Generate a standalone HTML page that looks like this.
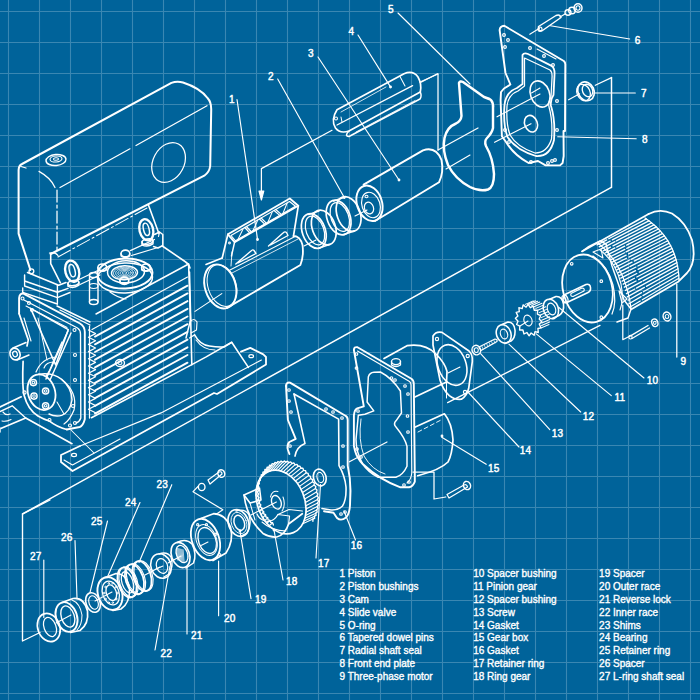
<!DOCTYPE html>
<html><head><meta charset="utf-8"><style>
html,body{margin:0;padding:0;background:#00639a;}
svg{display:block}
.n{font-family:"Liberation Sans",sans-serif;font-size:10px;fill:#fff;stroke:#fff;stroke-width:0.45px;letter-spacing:0.2px}
.l{font-family:"Liberation Sans",sans-serif;font-size:10px;fill:#fff;stroke:#fff;stroke-width:0.35px}
</style></head><body>
<svg width="700" height="700" viewBox="0 0 700 700">
<rect width="700" height="700" fill="#00639a"/>
<g stroke="#3a87b2" stroke-width="1.1">
<line x1="8.5" y1="0" x2="8.5" y2="700"/>
<line x1="0" y1="11.5" x2="700" y2="11.5"/>
<line x1="39.5" y1="0" x2="39.5" y2="700"/>
<line x1="0" y1="42.5" x2="700" y2="42.5"/>
<line x1="70.5" y1="0" x2="70.5" y2="700"/>
<line x1="0" y1="73.5" x2="700" y2="73.5"/>
<line x1="101.5" y1="0" x2="101.5" y2="700"/>
<line x1="0" y1="104.5" x2="700" y2="104.5"/>
<line x1="132.5" y1="0" x2="132.5" y2="700"/>
<line x1="0" y1="135.5" x2="700" y2="135.5"/>
<line x1="163.5" y1="0" x2="163.5" y2="700"/>
<line x1="0" y1="166.5" x2="700" y2="166.5"/>
<line x1="194.5" y1="0" x2="194.5" y2="700"/>
<line x1="0" y1="197.5" x2="700" y2="197.5"/>
<line x1="225.5" y1="0" x2="225.5" y2="700"/>
<line x1="0" y1="228.5" x2="700" y2="228.5"/>
<line x1="256.5" y1="0" x2="256.5" y2="700"/>
<line x1="0" y1="259.5" x2="700" y2="259.5"/>
<line x1="287.5" y1="0" x2="287.5" y2="700"/>
<line x1="0" y1="290.5" x2="700" y2="290.5"/>
<line x1="318.5" y1="0" x2="318.5" y2="700"/>
<line x1="0" y1="321.5" x2="700" y2="321.5"/>
<line x1="349.5" y1="0" x2="349.5" y2="700"/>
<line x1="0" y1="352.5" x2="700" y2="352.5"/>
<line x1="380.5" y1="0" x2="380.5" y2="700"/>
<line x1="0" y1="383.5" x2="700" y2="383.5"/>
<line x1="411.5" y1="0" x2="411.5" y2="700"/>
<line x1="0" y1="414.5" x2="700" y2="414.5"/>
<line x1="442.5" y1="0" x2="442.5" y2="700"/>
<line x1="0" y1="445.5" x2="700" y2="445.5"/>
<line x1="473.5" y1="0" x2="473.5" y2="700"/>
<line x1="0" y1="476.5" x2="700" y2="476.5"/>
<line x1="504.5" y1="0" x2="504.5" y2="700"/>
<line x1="0" y1="507.5" x2="700" y2="507.5"/>
<line x1="535.5" y1="0" x2="535.5" y2="700"/>
<line x1="0" y1="538.5" x2="700" y2="538.5"/>
<line x1="566.5" y1="0" x2="566.5" y2="700"/>
<line x1="0" y1="569.5" x2="700" y2="569.5"/>
<line x1="597.5" y1="0" x2="597.5" y2="700"/>
<line x1="0" y1="600.5" x2="700" y2="600.5"/>
<line x1="628.5" y1="0" x2="628.5" y2="700"/>
<line x1="0" y1="631.5" x2="700" y2="631.5"/>
<line x1="659.5" y1="0" x2="659.5" y2="700"/>
<line x1="0" y1="662.5" x2="700" y2="662.5"/>
<line x1="690.5" y1="0" x2="690.5" y2="700"/>
<line x1="0" y1="693.5" x2="700" y2="693.5"/>
</g>
<g fill="none" stroke="#ffffff" stroke-linecap="round" stroke-linejoin="round">
<line x1="22.5" y1="514" x2="611.3" y2="187.4" stroke-width="1.47" />
<polyline points="332,130.3 261.4,168.6 261.4,196" stroke-width="1.25" />
<path d="M 259,191 L 261.4,200 L 263.8,191 Z" stroke-width="1.14" fill="#fff"/>
<line x1="237" y1="99.5" x2="257.5" y2="239" stroke-width="1.14" />
<circle cx="257.5" cy="239.5" r="0.9" stroke-width="1.03" fill="#fff"/>
<path d="M 293.5,236.2 Q 300,236 302.5,245 Q 304,256 300.4,265 L 227,307.9" stroke-width="1.8" />
<line x1="206" y1="264.5" x2="222.2" y2="258" stroke-width="1.69" />
<ellipse cx="220.3" cy="286.4" rx="15.3" ry="22.6" stroke-width="1.91" transform="rotate(-18 220.3 286.4)" />
<ellipse cx="222" cy="285.5" rx="14" ry="21.5" stroke-width="1.03" transform="rotate(-18 222 285.5)" />
<polyline points="227.9,234.3 289.8,198.5 298.3,205.8 234.6,242.2 227.9,234.3" stroke-width="1.8" />
<polyline points="234.6,242.2 231.5,256" stroke-width="1.47" />
<polyline points="298.3,205.8 293.5,236" stroke-width="1.69" />
<polyline points="227.9,234.3 222.2,258" stroke-width="1.69" />
<polyline points="231,235.5 289.5,201.5 295.5,206.3 235.5,240.8 231,235.5" stroke-width="1.14" />
<line x1="246.4" y1="226.5" x2="251.3" y2="231.7" stroke-width="1.25" />
<line x1="244.8" y1="227.5" x2="249.7" y2="232.7" stroke-width="1.25" />
<line x1="261.1" y1="218" x2="266.3" y2="223.1" stroke-width="1.25" />
<line x1="259.4" y1="219" x2="264.7" y2="224.1" stroke-width="1.25" />
<line x1="275.7" y1="209.5" x2="281.3" y2="214.4" stroke-width="1.25" />
<line x1="274.1" y1="210.5" x2="279.7" y2="215.4" stroke-width="1.25" />
<line x1="237.9" y1="239.4" x2="243.3" y2="228.4" stroke-width="1.03" />
<line x1="252.9" y1="230.8" x2="257.9" y2="219.9" stroke-width="1.03" />
<line x1="267.9" y1="222.2" x2="272.5" y2="211.4" stroke-width="1.03" />
<line x1="282.9" y1="213.5" x2="287.2" y2="202.9" stroke-width="1.03" />
<circle cx="229.5" cy="243" r="0.9" stroke-width="1.03" />
<line x1="232" y1="252" x2="231" y2="266" stroke-width="0.92" />
<path d="M 235.8,264 L 251,251 Q 253,249 254,250.5 L 256,253.5 L 238,263" stroke-width="1.36" />
<path d="M 268.5,246 L 283,233 Q 285,231 286.5,232.5 L 288,235.5 L 270.5,245" stroke-width="1.36" />
<line x1="230" y1="270" x2="296" y2="236" stroke-width="1.03" />
<line x1="232" y1="273" x2="298" y2="239" stroke-width="0.81" />
<line x1="195" y1="311.4" x2="221.8" y2="293.6" stroke-width="1.14" />
<ellipse cx="313.8" cy="231" rx="11.5" ry="18" stroke-width="1.69" transform="rotate(-20 313.8 231)" />
<ellipse cx="315" cy="230.5" rx="8.8" ry="15" stroke-width="1.25" transform="rotate(-20 315 230.5)" />
<ellipse cx="323.8" cy="227.5" rx="11.5" ry="18" stroke-width="1.69" transform="rotate(-20 323.8 227.5)" stroke-dasharray="0"/>
<line x1="308.8" y1="214.5" x2="318.8" y2="211" stroke-width="1.58" />
<line x1="319.3" y1="248" x2="329.3" y2="244.5" stroke-width="1.58" />
<ellipse cx="338.6" cy="217.5" rx="11.5" ry="18" stroke-width="1.69" transform="rotate(-20 338.6 217.5)" />
<ellipse cx="339.8" cy="217" rx="8.8" ry="15" stroke-width="1.25" transform="rotate(-20 339.8 217)" />
<ellipse cx="348.6" cy="214" rx="11.5" ry="18" stroke-width="1.69" transform="rotate(-20 348.6 214)" stroke-dasharray="0"/>
<line x1="333.6" y1="201" x2="343.6" y2="197.5" stroke-width="1.58" />
<line x1="344.1" y1="234.5" x2="354.1" y2="231" stroke-width="1.58" />
<line x1="304" y1="246" x2="316" y2="240" stroke-width="1.03" />
<line x1="277.7" y1="79" x2="344" y2="197" stroke-width="1.14" />
<circle cx="344.3" cy="197.5" r="0.9" stroke-width="1.03" fill="#fff"/>
<path d="M 363.6,184.6 L 423,150.3 Q 436,146 441.5,160 Q 444,172 439,182.3 L 375,221" stroke-width="1.91" />
<ellipse cx="369.5" cy="203.3" rx="12.5" ry="18.2" stroke-width="1.91" transform="rotate(-18 369.5 203.3)" />
<ellipse cx="371" cy="205" rx="9" ry="13" stroke-width="1.14" transform="rotate(-18 371 205)" />
<ellipse cx="369" cy="208" rx="4.5" ry="6" stroke-width="1.25" transform="rotate(-18 369 208)" />
<ellipse cx="366.5" cy="196.5" rx="1.5" ry="1.2" stroke-width="1.03" />
<line x1="355" y1="216" x2="367" y2="210" stroke-width="1.14" />
<circle cx="399" cy="180" r="0.9" stroke-width="1.03" fill="#fff"/>
<line x1="318" y1="57" x2="399" y2="180" stroke-width="1.14" />
<path d="M 337,109.7 L 404,73.7 Q 413,70 418,77 Q 422,84 420.3,92 L 349,131 Q 340,134 335.5,128 Q 330.5,120 337,109.7 Z" stroke-width="1.69" />
<line x1="337" y1="125" x2="412.6" y2="85.7" stroke-width="1.36" />
<path d="M 349,131 Q 344,136 349,136.5 L 420,99 Q 422,96 420.3,92" stroke-width="1.47" />
<line x1="400" y1="76.5" x2="405" y2="86" stroke-width="1.03" />
<line x1="341" y1="117" x2="342" y2="122" stroke-width="1.03" />
<circle cx="336" cy="118.5" r="1.5" stroke-width="1.03" />
<line x1="341" y1="112" x2="386" y2="87" stroke-width="0.81" />
<line x1="356" y1="132" x2="415" y2="100.5" stroke-width="0.81" />
<line x1="358" y1="35" x2="390.3" y2="86.6" stroke-width="1.14" />
<circle cx="390.5" cy="87" r="0.9" stroke-width="1.03" fill="#fff"/>
<line x1="421" y1="82.3" x2="437.4" y2="73.7" stroke-width="1.25" />
<line x1="420" y1="82" x2="438" y2="74" stroke-width="1.25" />
<line x1="438" y1="74" x2="438" y2="150" stroke-width="1.25" />
<line x1="438" y1="150" x2="478" y2="128" stroke-width="1.25" />
<line x1="446" y1="169" x2="470" y2="155" stroke-width="1.14" />
<path d="M 459,83 Q 460,80.5 463,82 L 484,97 Q 490,99 491,100 Q 493.5,103 493,108 L 493,128 Q 492,133 487,138 Q 484,141 486,146 Q 493,158 494,174 Q 494,187 488,189.5 Q 480,192 470,187 Q 455,179 448,165 Q 442,150 444.5,138 Q 447,127 456,123.5 Q 461,121 461.5,116 Z" stroke-width="2.46" />
<line x1="398" y1="13" x2="470" y2="84" stroke-width="1.14" />
<path d="M 499.6,30 Q 500,26 504.3,25.8 L 563.8,61 Q 565.5,62.5 565.3,65 L 565,131 L 563.5,131 L 563.7,156 L 562.6,163 L 560,165.4 L 545.6,165.4 L 538,161 L 528.6,163 Q 514,155 506,142 L 501.9,136.3 L 500.6,100 L 501,92 L 504,88.5 L 510.4,84.5 L 505.5,73 Z" stroke-width="1.91" />
<path d="M 522.5,55 Q 524,52.5 528,54 L 551.6,65.9 Q 555,68 554.5,75 L 553.5,95 Q 550,100 551,106 Q 555.5,120 554,140 Q 550,157 535.9,156 Q 516,150 507.5,137 Q 503,125 504.5,105 Q 506,92 517,88 L 522.5,84 Z" stroke-width="1.8" />
<path d="M 524.5,58 L 550,70 Q 552.5,72 552,78 L 551,97 Q 548,102 549,107 Q 553,121 551.5,139 Q 547,153 535,153 Q 517,147 510,135 Q 506,124 507,106 Q 508,95 518,91 L 524.5,86 Z" stroke-width="1.25" />
<ellipse cx="540" cy="94" rx="9.5" ry="13.5" stroke-width="1.58" transform="rotate(-20 540 94)" />
<path d="M 531.5,93 L 540,88" stroke-width="1.03" />
<ellipse cx="531" cy="123.7" rx="6.3" ry="8.5" stroke-width="1.58" transform="rotate(-20 531 123.7)" />
<line x1="497" y1="116.8" x2="540" y2="94" stroke-width="1.14" />
<line x1="494.6" y1="142.3" x2="531" y2="123.7" stroke-width="1.14" />
<circle cx="504" cy="35" r="1.4" stroke-width="1.14" />
<circle cx="508" cy="40" r="1.4" stroke-width="1.14" />
<circle cx="505" cy="47" r="1.4" stroke-width="1.14" />
<circle cx="530" cy="48" r="1.4" stroke-width="1.14" />
<circle cx="544" cy="56" r="1.4" stroke-width="1.14" />
<circle cx="553" cy="65" r="1.4" stroke-width="1.14" />
<circle cx="557" cy="130" r="1.4" stroke-width="1.14" />
<circle cx="557" cy="101" r="1.4" stroke-width="1.14" />
<circle cx="505" cy="130" r="1.4" stroke-width="1.14" />
<circle cx="509" cy="142" r="1.4" stroke-width="1.14" />
<circle cx="531" cy="162" r="1.4" stroke-width="1.14" />
<circle cx="548" cy="163" r="1.4" stroke-width="1.14" />
<circle cx="552" cy="161" r="1.4" stroke-width="1.14" />
<circle cx="555" cy="160" r="1.4" stroke-width="1.14" />
<line x1="529.8" y1="34.3" x2="539.5" y2="28.2" stroke-width="1.14" />
<line x1="537" y1="49" x2="556" y2="59" stroke-width="1.03" />
<path d="M 538.5,26.5 L 556,15.5 Q 560,14 561,17.5 L 542.5,30.5 Q 538,32 538.5,26.5 Z" stroke-width="1.47" />
<ellipse cx="540" cy="29.2" rx="2" ry="2.2" stroke-width="1.14" />
<line x1="560" y1="17" x2="565" y2="14" stroke-width="1.25" />
<ellipse cx="568" cy="12.5" rx="3" ry="2.8" stroke-width="1.36" />
<ellipse cx="572" cy="10.5" rx="3.3" ry="3.2" stroke-width="1.36" />
<ellipse cx="578" cy="8" rx="4" ry="4.3" stroke-width="1.47" />
<ellipse cx="578" cy="8" rx="2" ry="2.2" stroke-width="1.14" />
<line x1="550.4" y1="25.8" x2="629.7" y2="39" stroke-width="1.14" />
<ellipse cx="586" cy="91.3" rx="8" ry="9.7" stroke-width="1.69" transform="rotate(-25 586 91.3)" />
<ellipse cx="587.5" cy="90.5" rx="5" ry="6.5" stroke-width="1.36" transform="rotate(-25 587.5 90.5)" />
<ellipse cx="583.5" cy="92.5" rx="6.5" ry="8.5" stroke-width="1.25" transform="rotate(-25 583.5 92.5)" />
<line x1="568.6" y1="99.8" x2="579.6" y2="93.8" stroke-width="1.14" />
<line x1="594" y1="93" x2="635.3" y2="93" stroke-width="1.14" />
<line x1="595.3" y1="85.3" x2="611.5" y2="77.6" stroke-width="1.25" />
<line x1="611.5" y1="77.6" x2="611.5" y2="187.4" stroke-width="1.47" />
<line x1="557.7" y1="136.8" x2="636.2" y2="138.8" stroke-width="1.14" />
<line x1="597.1" y1="244.9" x2="646.4" y2="218.9" stroke-width="1.31" stroke-dasharray="10.9 2.3 40 0"/>
<line x1="599.2" y1="246.8" x2="649" y2="220.8" stroke-width="1.31" stroke-dasharray="12.4 2.4 40 0"/>
<line x1="601.2" y1="248.8" x2="651.5" y2="222.8" stroke-width="1.31" stroke-dasharray="15.5 1.6 40 0"/>
<line x1="603.2" y1="250.9" x2="653.9" y2="224.8" stroke-width="1.31" stroke-dasharray="8.2 2.8 40 0"/>
<line x1="605.1" y1="253" x2="656.2" y2="226.9" stroke-width="1.31" stroke-dasharray="11.1 1.9 40 0"/>
<line x1="607" y1="255.2" x2="658.4" y2="229" stroke-width="1.31" stroke-dasharray="19.9 2.2 40 0"/>
<line x1="608.8" y1="257.5" x2="660.5" y2="231.2" stroke-width="1.31" stroke-dasharray="18.0 2.2 40 0"/>
<line x1="610.5" y1="259.8" x2="662.5" y2="233.5" stroke-width="1.31" stroke-dasharray="15.7 1.7 40 0"/>
<line x1="612.2" y1="262.2" x2="664.4" y2="235.8" stroke-width="1.31" stroke-dasharray="15.6 2.8 40 0"/>
<line x1="613.8" y1="264.7" x2="666.1" y2="238.2" stroke-width="1.31" stroke-dasharray="14.3 2.6 40 0"/>
<line x1="615.3" y1="267.3" x2="667.8" y2="240.7" stroke-width="1.31" stroke-dasharray="16.1 1.6 40 0"/>
<line x1="616.8" y1="269.9" x2="669.3" y2="243.2" stroke-width="1.31" stroke-dasharray="17.1 2.4 40 0"/>
<line x1="618.2" y1="272.6" x2="670.7" y2="245.8" stroke-width="1.31" stroke-dasharray="11.6 1.5 40 0"/>
<line x1="619.6" y1="275.4" x2="672" y2="248.4" stroke-width="1.31" stroke-dasharray="18.4 2.2 40 0"/>
<line x1="620.8" y1="278.2" x2="673.2" y2="251.2" stroke-width="1.31" stroke-dasharray="16.6 2.8 40 0"/>
<line x1="622.1" y1="281.2" x2="674.3" y2="253.9" stroke-width="1.31" stroke-dasharray="16.6 2.9 40 0"/>
<line x1="623.2" y1="284.2" x2="675.2" y2="256.8" stroke-width="1.31" stroke-dasharray="12.7 2.7 40 0"/>
<line x1="624.3" y1="287.2" x2="676.1" y2="259.7" stroke-width="1.31" stroke-dasharray="13.3 2.9 40 0"/>
<line x1="625.4" y1="290.4" x2="676.9" y2="262.6" stroke-width="1.31" stroke-dasharray="18.5 1.6 40 0"/>
<line x1="626.4" y1="293.6" x2="677.5" y2="265.6" stroke-width="1.31" stroke-dasharray="9.6 1.8 40 0"/>
<line x1="627.3" y1="296.9" x2="678" y2="268.7" stroke-width="1.31" stroke-dasharray="19.6 2.2 40 0"/>
<line x1="628.1" y1="300.3" x2="678.4" y2="271.9" stroke-width="1.31" stroke-dasharray="15.5 2.0 40 0"/>
<line x1="628.9" y1="303.7" x2="678.8" y2="275.1" stroke-width="1.31" stroke-dasharray="14.1 2.1 40 0"/>
<line x1="629.7" y1="307.2" x2="678.9" y2="278.3" stroke-width="1.31" stroke-dasharray="12.2 2.4 40 0"/>
<path d="M 598,243 Q 625,265 631,308" stroke-width="1.25" />
<path d="M 645,218 Q 678,240 679,280" stroke-width="1.25" />
<line x1="582" y1="251.4" x2="648.6" y2="214" stroke-width="1.69" />
<path d="M 648.6,214 Q 660,208 672,213.5 Q 686,222 692,240 Q 697,262 687,273 L 678.6,281.4 L 631.4,309.3" stroke-width="1.8" />
<path d="M 582,251.4 L 588,247 L 600,241 L 606,244 L 612,266 L 624,300 L 631,309 L 628,318 L 617,322" stroke-width="1.47" />
<path d="M 593,252 L 601,249 L 603,258 Z" stroke-width="1.14" />
<path d="M 619,291 L 627,299 L 622,303 Z" stroke-width="1.14" />
<ellipse cx="587.5" cy="288.5" rx="24.5" ry="34.5" stroke-width="1.8" transform="rotate(-15 587.5 288.5)" />
<path d="M 593,256 Q 608,266 613,285 Q 617,303 612,314" stroke-width="1.25" />
<path d="M 600,250 Q 616,262 621,284 Q 624,300 620,310" stroke-width="1.14" />
<circle cx="571.7" cy="263.8" r="1.3" stroke-width="1.14" />
<circle cx="601.3" cy="281.2" r="1.3" stroke-width="1.14" />
<circle cx="601.3" cy="317.2" r="1.3" stroke-width="1.14" />
<path d="M 565,294.5 L 586,284.5 Q 590,283.5 590.5,287.5 Q 591,291 588,292.5 L 568,302 Q 563.5,303.5 563,299.5 Q 563,296 565,294.5 Z" stroke-width="1.58" />
<path d="M 571,293.5 L 582,288 Q 585,288 584,291 L 573,296.5 Q 570,296.5 571,293.5 Z" stroke-width="1.14" />
<ellipse cx="565" cy="299" rx="2.8" ry="4" stroke-width="1.25" transform="rotate(-20 565 299)" />
<line x1="676.8" y1="284" x2="676.8" y2="357" stroke-width="1.25" />
<path d="M 630.5,335.8 L 648,325.5 M 632,338.5 L 649.5,328" stroke-width="1.36" />
<ellipse cx="630.5" cy="337.2" rx="1.6" ry="1.8" stroke-width="1.14" />
<ellipse cx="654.8" cy="322.8" rx="3" ry="3.8" stroke-width="1.36" transform="rotate(-20 654.8 322.8)" />
<ellipse cx="654.8" cy="322.8" rx="1.3" ry="1.6" stroke-width="1.03" />
<ellipse cx="667" cy="316.5" rx="3.8" ry="4.5" stroke-width="1.47" transform="rotate(-20 667 316.5)" />
<ellipse cx="667" cy="316.5" rx="1.8" ry="2" stroke-width="1.03" />
<polyline points="622.8,305 622.8,339.7 630,336" stroke-width="1.25" />
<path d="M 549,299.5 L 556,296.5 Q 562,296 563.5,304 Q 564.5,312 559,315.5 L 552,318.5" stroke-width="1.58" />
<ellipse cx="550.9" cy="309" rx="7.4" ry="10" stroke-width="1.58" transform="rotate(-20 550.9 309)" />
<ellipse cx="551.5" cy="309" rx="4" ry="6" stroke-width="1.14" transform="rotate(-20 551.5 309)" />
<line x1="558.6" y1="307.3" x2="644" y2="378" stroke-width="1.14" />
<polygon points="540.6,315.7 539.2,319 541.8,321.9 539.3,324.1 541,327.8 537.9,328.5 538.3,332.5 535,331.6 534.1,335.3 531.1,333 529.1,335.8 526.9,332.5 524,334 522.9,330 519.6,330 519.8,326.1 516.6,324.5 518,321.2 515.4,318.3 517.9,316.1 516.2,312.4 519.3,311.7 518.9,307.7 522.2,308.6 523.1,304.9 526.1,307.2 528.1,304.4 530.3,307.7 533.2,306.2 534.3,310.2 537.6,310.2 537.4,314.1" stroke-width="1.36" />
<line x1="525.2" y1="304.4" x2="533.2" y2="300.9" stroke-width="1.03" />
<line x1="527.4" y1="304.3" x2="535.4" y2="300.8" stroke-width="1.03" />
<line x1="529.6" y1="304.7" x2="537.6" y2="301.2" stroke-width="1.03" />
<line x1="531.8" y1="305.5" x2="539.8" y2="302" stroke-width="1.03" />
<line x1="534" y1="306.7" x2="542" y2="303.2" stroke-width="1.03" />
<line x1="535.9" y1="308.4" x2="543.9" y2="304.9" stroke-width="1.03" />
<line x1="537.7" y1="310.3" x2="545.7" y2="306.8" stroke-width="1.03" />
<line x1="539.2" y1="312.6" x2="547.2" y2="309.1" stroke-width="1.03" />
<line x1="540.4" y1="315" x2="548.4" y2="311.5" stroke-width="1.03" />
<line x1="541.2" y1="317.6" x2="549.2" y2="314.1" stroke-width="1.03" />
<line x1="541.7" y1="320.3" x2="549.7" y2="316.8" stroke-width="1.03" />
<line x1="541.8" y1="323" x2="549.8" y2="319.5" stroke-width="1.03" />
<line x1="541.6" y1="325.5" x2="549.6" y2="322" stroke-width="1.03" />
<line x1="541" y1="328" x2="549" y2="324.5" stroke-width="1.03" />
<ellipse cx="528" cy="320.5" rx="4" ry="5.5" stroke-width="1.14" transform="rotate(-20 528 320.5)" />
<line x1="520" y1="326" x2="528" y2="321" stroke-width="1.03" />
<line x1="536.3" y1="333.9" x2="611.3" y2="395.6" stroke-width="1.14" />
<path d="M 502,324.5 L 508,322 Q 514,322 515,330 Q 515.5,338 511,341 L 505,343.5" stroke-width="1.58" />
<ellipse cx="503.7" cy="333.9" rx="7.2" ry="9.4" stroke-width="1.58" transform="rotate(-20 503.7 333.9)" />
<ellipse cx="504" cy="334" rx="3.5" ry="5" stroke-width="1.14" transform="rotate(-20 504 334)" />
<line x1="508.9" y1="344.1" x2="580.7" y2="412" stroke-width="1.14" />
<path d="M 479,347 L 495,339 Q 497.5,339 497,341.5 L 481,350.5 Z" stroke-width="1.25" />
<ellipse cx="476.3" cy="350.1" rx="4.2" ry="4.8" stroke-width="1.47" transform="rotate(-20 476.3 350.1)" />
<ellipse cx="476.3" cy="350.1" rx="2" ry="2.4" stroke-width="1.03" />
<line x1="482" y1="346.5" x2="483" y2="349" stroke-width="0.7" />
<line x1="484.4" y1="345.3" x2="485.4" y2="347.8" stroke-width="0.7" />
<line x1="486.8" y1="344.1" x2="487.8" y2="346.6" stroke-width="0.7" />
<line x1="489.2" y1="342.9" x2="490.2" y2="345.4" stroke-width="0.7" />
<line x1="491.6" y1="341.7" x2="492.6" y2="344.2" stroke-width="0.7" />
<line x1="494" y1="340.5" x2="495" y2="343" stroke-width="0.7" />
<line x1="480.6" y1="353.6" x2="549.8" y2="429.6" stroke-width="1.14" />
<line x1="447.6" y1="402.6" x2="600" y2="325.4" stroke-width="1.25" />
<path d="M 433,336 Q 436,331 442,332.4 L 469,351 Q 473,355 472.3,361.6 L 468.7,388.3 Q 467,396 461.4,399.2 Q 455,400 449.3,395.6 Q 443,390 440,380 L 433,345 Z" stroke-width="1.69" />
<ellipse cx="452" cy="365" rx="14" ry="21" stroke-width="1.58" transform="rotate(-20 452 365)" />
<circle cx="437" cy="339" r="1.6" stroke-width="1.14" />
<circle cx="467.7" cy="356" r="1.6" stroke-width="1.14" />
<circle cx="465" cy="392" r="1.6" stroke-width="1.14" />
<line x1="448" y1="373" x2="460" y2="367" stroke-width="1.03" />
<line x1="467" y1="391" x2="519" y2="447" stroke-width="1.14" />
<path d="M 353.9,350 Q 354,346.5 357.5,347.2 L 411.4,378.8 Q 413.8,380.5 413.8,384 L 414.8,475 L 414.8,481.7 Q 413,486.5 409.2,487.3 L 400.4,487.3 Q 380,480 362.7,464 Q 357,458 355,450.7 L 353.9,446 L 353.9,415.3 Q 354.5,409.5 357.2,408.4 L 363.8,406.4 Z" stroke-width="1.91" />
<path d="M 368.3,377 Q 369.5,372.5 374,372.3 L 380.4,372 Q 392,378 400.4,391 L 401.5,413 L 396,420.8 Q 393,424 396,427 Q 405,438 407,446.3 L 407,466.2 Q 403,475 395.9,477.3 L 378.2,477.3 Q 368,472 362.7,464 Q 356,452 356,439.6 L 358.3,415.3 L 364.9,414.2 L 373.8,410.9 L 367.1,402 Z" stroke-width="1.47" />
<path d="M 361,419 Q 358,440 364,456 Q 372,470 385,474" stroke-width="0.92" />
<circle cx="356.5" cy="354" r="1.3" stroke-width="1.14" />
<circle cx="356.5" cy="368" r="1.3" stroke-width="1.14" />
<circle cx="391.5" cy="378" r="1.3" stroke-width="1.14" />
<circle cx="395" cy="380" r="1.3" stroke-width="1.14" />
<circle cx="405" cy="386" r="1.3" stroke-width="1.14" />
<circle cx="408" cy="394" r="1.3" stroke-width="1.14" />
<circle cx="407.5" cy="416" r="1.3" stroke-width="1.14" />
<circle cx="408" cy="432" r="1.3" stroke-width="1.14" />
<circle cx="357" cy="449" r="1.3" stroke-width="1.14" />
<circle cx="361" cy="457" r="1.3" stroke-width="1.14" />
<circle cx="404" cy="485" r="1.3" stroke-width="1.14" />
<circle cx="409" cy="482" r="1.3" stroke-width="1.14" />
<circle cx="358" cy="411" r="1.3" stroke-width="1.14" />
<line x1="349.4" y1="461.8" x2="387" y2="441.9" stroke-width="1.14" />
<path d="M 384,358.6 L 407,345.7 Q 425,343 436,354 Q 445,363 447,371.4 L 446.5,382 L 414.9,397.1" stroke-width="1.69" />
<line x1="446.5" y1="382" x2="446.5" y2="398" stroke-width="1.03" />
<path d="M 357.5,351 L 409.5,381.5 Q 411,382.5 411,385 L 411.8,473 Q 411,480 407,483" stroke-width="1.14" />
<path d="M 415.3,427 L 444.4,413.8 Q 452,423 453,440 Q 452,455 448,462 Q 440,470 417.7,475.7" stroke-width="1.69" />
<line x1="418" y1="432" x2="441" y2="420" stroke-width="0.92" stroke-dasharray="4 3"/>
<ellipse cx="396" cy="361.6" rx="4.5" ry="3" stroke-width="1.36" />
<path d="M 391.5,361.6 L 391.5,365 Q 396,368 400.5,365 L 400.5,361.6" stroke-width="1.25" />
<circle cx="442" cy="436" r="0.9" stroke-width="1.03" fill="#fff"/>
<line x1="441.8" y1="437.3" x2="486.2" y2="464.3" stroke-width="1.14" />
<polyline points="413,472 434,472 434,499 445.7,497" stroke-width="1.25" />
<path d="M 447,494.5 L 464,485 Q 467,484 467.5,487 L 449,498 Z" stroke-width="1.25" />
<ellipse cx="467" cy="485.5" rx="3.5" ry="4.2" stroke-width="1.47" transform="rotate(-20 467 485.5)" />
<path d="M 286,386 Q 286,382 290,382.6 L 345.4,415.7 Q 347.7,417 347.7,420 L 347.7,465.6 Q 350.5,478 350.5,490.8 L 350,505 Q 349.5,514 346,517.5 Q 341,521.5 337,518 L 333.5,512.8 L 324,511.2" stroke-width="1.91" />
<path d="M 286,386 L 287.9,420 L 295.7,438.9 L 289.4,442 Q 286.5,445 288,450 L 289.4,454" stroke-width="1.91" />
<path d="M 294,394 L 338.6,419.1 L 339,465.6 Q 345,476 346,487 Q 346.5,500 342.5,506 Q 338,510.5 331,510 L 322,508.5" stroke-width="1.58" />
<path d="M 294,394 L 305,443.6 Q 296.5,447 295,456.2" stroke-width="1.58" />
<circle cx="289" cy="390" r="1.3" stroke-width="1.14" />
<circle cx="289" cy="401" r="1.3" stroke-width="1.14" />
<circle cx="291" cy="412" r="1.3" stroke-width="1.14" />
<circle cx="326" cy="409" r="1.3" stroke-width="1.14" />
<circle cx="333" cy="412" r="1.3" stroke-width="1.14" />
<circle cx="342" cy="418" r="1.3" stroke-width="1.14" />
<circle cx="343" cy="446" r="1.3" stroke-width="1.14" />
<circle cx="343" cy="467" r="1.3" stroke-width="1.14" />
<circle cx="290" cy="446" r="1.3" stroke-width="1.14" />
<circle cx="341" cy="514" r="1.3" stroke-width="1.14" />
<circle cx="345" cy="512" r="1.3" stroke-width="1.14" />
<line x1="344" y1="511" x2="355.5" y2="540" stroke-width="1.14" />
<ellipse cx="319.8" cy="477.5" rx="6.3" ry="8.5" stroke-width="1.69" transform="rotate(-15 319.8 477.5)" />
<ellipse cx="320.3" cy="477.5" rx="3.2" ry="5.2" stroke-width="1.14" transform="rotate(-15 320.3 477.5)" />
<line x1="320.5" y1="484.5" x2="316" y2="558" stroke-width="1.14" />
<polyline points="273.4,525 272.6,522.8 270.7,522.6 270,520.4 268.1,519.9 267.7,517.7 265.8,516.9 265.6,514.7 263.7,513.8 263.7,511.6 261.9,510.4 262.1,508.2 260.4,506.9 260.7,504.8 259.2,503.3 259.7,501.2 258.3,499.5 259,497.6 257.7,495.8 258.6,494 257.4,492.1 258.5,490.4 257.5,488.4 258.8,486.9 258,484.8 259.3,483.5 258.7,481.3 260.2,480.3 259.8,478 261.4,477.2 261.2,475 262.9,474.3 262.9,472.1 264.7,471.7 264.9,469.5 266.7,469.3 267.1,467.2 269,467.3 269.5,465.3 271.4,465.5 272.2,463.6 274.1,464.1 275,462.4 276.9,463.1 278,461.5 279.8,462.4 281.1,461 282.9,462.2 284.3,460.9 285.9,462.2 287.5,461.2 289,462.7 290.7,461.9 292.1,463.6 293.8,462.9 295.2,464.8 297,464.4 298.1,466.3 300,466.2 301,468.2 302.9,468.3 303.7,470.4 305.6,470.7 306.2,472.9 308.1,473.4 308.6,475.6 310.4,476.4 310.7,478.6 312.5,479.6 312.5,481.8 314.3,483 314.1,485.1 315.8,486.5 315.4,488.6 317,490.1 316.4,492.2 317.8,493.9 317.1,495.8 318.4,497.6 317.4,499.4 318.6,501.3 317.5,502.9 318.4,505 317.2,506.4 318,508.6 316.6,509.8 317.2,512 315.7,513.1 316.1,515.3 314.4,516.1 314.6,518.4 312.9,519 312.9,521.2" stroke-width="1.36" />
<line x1="269.1" y1="525.7" x2="272.5" y2="523" stroke-width="1.14" />
<line x1="266.8" y1="523.3" x2="270" y2="520.5" stroke-width="1.14" />
<line x1="264.7" y1="520.7" x2="267.6" y2="517.8" stroke-width="1.14" />
<line x1="262.8" y1="517.9" x2="265.4" y2="514.8" stroke-width="1.14" />
<line x1="261.1" y1="514.9" x2="263.5" y2="511.6" stroke-width="1.14" />
<line x1="259.6" y1="511.8" x2="261.9" y2="508.3" stroke-width="1.14" />
<line x1="258.4" y1="508.6" x2="260.6" y2="504.8" stroke-width="1.14" />
<line x1="257.4" y1="505.3" x2="259.5" y2="501.3" stroke-width="1.14" />
<line x1="256.6" y1="501.9" x2="258.8" y2="497.6" stroke-width="1.14" />
<line x1="256.2" y1="498.6" x2="258.4" y2="494" stroke-width="1.14" />
<line x1="256" y1="495.3" x2="258.4" y2="490.4" stroke-width="1.14" />
<line x1="256" y1="492.1" x2="258.6" y2="486.9" stroke-width="1.14" />
<line x1="256.4" y1="488.9" x2="259.2" y2="483.5" stroke-width="1.14" />
<line x1="257" y1="486" x2="260.1" y2="480.2" stroke-width="1.14" />
<line x1="257.9" y1="483.2" x2="261.3" y2="477.1" stroke-width="1.14" />
<line x1="259" y1="480.6" x2="262.8" y2="474.2" stroke-width="1.14" />
<line x1="260.4" y1="478.2" x2="264.6" y2="471.5" stroke-width="1.14" />
<line x1="262" y1="476.1" x2="266.6" y2="469.2" stroke-width="1.14" />
<line x1="263.9" y1="474.3" x2="268.9" y2="467.1" stroke-width="1.14" />
<line x1="265.9" y1="472.8" x2="271.4" y2="465.4" stroke-width="1.14" />
<line x1="268.1" y1="471.7" x2="274" y2="464" stroke-width="1.14" />
<line x1="270.4" y1="470.8" x2="276.8" y2="462.9" stroke-width="1.14" />
<line x1="272.8" y1="470.3" x2="279.8" y2="462.3" stroke-width="1.14" />
<line x1="275.3" y1="470.2" x2="282.8" y2="462" stroke-width="1.14" />
<line x1="277.9" y1="470.4" x2="285.9" y2="462.1" stroke-width="1.14" />
<line x1="280.6" y1="470.9" x2="289" y2="462.5" stroke-width="1.14" />
<line x1="283.2" y1="471.8" x2="292.1" y2="463.4" stroke-width="1.14" />
<line x1="285.8" y1="473" x2="295.2" y2="464.6" stroke-width="1.14" />
<line x1="288.3" y1="474.6" x2="298.2" y2="466.2" stroke-width="1.14" />
<line x1="290.8" y1="476.4" x2="301" y2="468.1" stroke-width="1.14" />
<line x1="293.2" y1="478.6" x2="303.8" y2="470.3" stroke-width="1.14" />
<line x1="295.4" y1="481" x2="306.3" y2="472.8" stroke-width="1.14" />
<line x1="297.5" y1="483.6" x2="308.7" y2="475.5" stroke-width="1.14" />
<line x1="299.4" y1="486.4" x2="310.8" y2="478.5" stroke-width="1.14" />
<line x1="301.1" y1="489.4" x2="312.6" y2="481.7" stroke-width="1.14" />
<line x1="302.5" y1="492.5" x2="314.2" y2="485.1" stroke-width="1.14" />
<line x1="303.7" y1="495.8" x2="315.5" y2="488.6" stroke-width="1.14" />
<line x1="304.7" y1="499.1" x2="316.5" y2="492.1" stroke-width="1.14" />
<line x1="305.4" y1="502.4" x2="317.2" y2="495.7" stroke-width="1.14" />
<line x1="305.9" y1="505.8" x2="317.6" y2="499.4" stroke-width="1.14" />
<line x1="306" y1="509.1" x2="317.6" y2="503" stroke-width="1.14" />
<line x1="305.9" y1="512.3" x2="317.3" y2="506.5" stroke-width="1.14" />
<line x1="305.6" y1="515.4" x2="316.7" y2="509.9" stroke-width="1.14" />
<line x1="304.9" y1="518.3" x2="315.8" y2="513.2" stroke-width="1.14" />
<line x1="304" y1="521.1" x2="314.6" y2="516.2" stroke-width="1.14" />
<line x1="302.8" y1="523.7" x2="313" y2="519.1" stroke-width="1.14" />
<ellipse cx="281" cy="502" rx="23.5" ry="33" stroke-width="1.69" transform="rotate(-22 281 502)" />
<path d="M 262,522 Q 272,531 286,531" stroke-width="1.03" />
<ellipse cx="276.4" cy="502.3" rx="4.6" ry="7" stroke-width="1.36" transform="rotate(-20 276.4 502.3)" />
<path d="M 270.5,497 Q 272,490 278,491.5" stroke-width="1.03" />
<path d="M 283,497 Q 286,505 282,511" stroke-width="1.03" />
<path d="M 244,495 L 259.5,488 M 244,495 L 250,503 L 261,500 L 259.5,488" stroke-width="1.58" />
<path d="M 244,495 Q 247,519 263,533.4 Q 270,537.5 276.6,537 Q 285,535 288.6,524 L 302.3,513.7" stroke-width="1.69" />
<path d="M 288.6,524 L 289.5,516 L 278,514.5 Q 273,523 265,521 Q 259,519 257,514" stroke-width="1.25" />
<path d="M 278,514.5 L 289,509.5 L 302.3,511" stroke-width="1.25" />
<line x1="250" y1="503" x2="255" y2="520" stroke-width="1.03" />
<circle cx="274" cy="530" r="0.9" stroke-width="1.03" fill="#fff"/>
<line x1="274" y1="530" x2="283" y2="580" stroke-width="1.14" />
<line x1="251" y1="515" x2="276.4" y2="502" stroke-width="1.14" />
<ellipse cx="238.5" cy="523" rx="10" ry="13.8" stroke-width="1.69" transform="rotate(-20 238.5 523)" />
<ellipse cx="239.3" cy="522.8" rx="5" ry="7.8" stroke-width="1.47" transform="rotate(-20 239.3 522.8)" />
<ellipse cx="239" cy="523" rx="7.5" ry="11" stroke-width="0.81" transform="rotate(-20 239 523)" />
<path d="M 236,511 Q 245,508 249,515 Q 252,525 247,533 L 241,536" stroke-width="1.36" />
<circle cx="240" cy="531" r="0.9" stroke-width="1.03" fill="#fff"/>
<line x1="240" y1="531" x2="251" y2="598.6" stroke-width="1.14" />
<ellipse cx="205.5" cy="539.5" rx="13.5" ry="21.5" stroke-width="1.8" transform="rotate(-20 205.5 539.5)" />
<ellipse cx="207.2" cy="540.5" rx="8.6" ry="13.4" stroke-width="1.36" transform="rotate(-20 207.2 540.5)" />
<ellipse cx="206.5" cy="540" rx="10" ry="16" stroke-width="0.92" transform="rotate(-20 206.5 540)" />
<path d="M 200.9,518.5 L 213.5,513.7 Q 225,514 230.5,527 Q 234,541 226,553 L 213,560.5" stroke-width="1.69" />
<circle cx="206.4" cy="524.7" r="1.1" stroke-width="1.14" />
<circle cx="215.8" cy="534.2" r="1.1" stroke-width="1.14" />
<circle cx="219.7" cy="554.6" r="1.1" stroke-width="1.14" />
<circle cx="197.7" cy="524.7" r="1.1" stroke-width="1.14" />
<line x1="200" y1="546" x2="208" y2="542" stroke-width="1.03" />
<line x1="218.6" y1="561" x2="218.6" y2="615.7" stroke-width="1.14" />
<path d="M 208,480 L 219,472 Q 222,471 222,474 L 210,484 Z" stroke-width="1.25" />
<ellipse cx="221.3" cy="473.6" rx="3.4" ry="3.8" stroke-width="1.47" transform="rotate(-20 221.3 473.6)" />
<ellipse cx="201.7" cy="487" rx="3.3" ry="3.6" stroke-width="1.36" />
<polyline points="198.5,486 193,491.7 222.9,509.8 215.8,514.5" stroke-width="1.14" />
<ellipse cx="180.5" cy="555" rx="9" ry="13" stroke-width="1.69" transform="rotate(-20 180.5 555)" />
<ellipse cx="182" cy="554" rx="5.5" ry="9" stroke-width="1.25" transform="rotate(-20 182 554)" />
<path d="M 177,542.5 Q 186,538 192,544 Q 197,554 193.5,563 L 186,568" stroke-width="1.47" />
<line x1="176.5" y1="548" x2="177.5" y2="560" stroke-width="0.7" />
<line x1="177.6" y1="548.3" x2="178.6" y2="560.3" stroke-width="0.7" />
<line x1="178.7" y1="548.6" x2="179.7" y2="560.6" stroke-width="0.7" />
<line x1="179.8" y1="548.9" x2="180.8" y2="560.9" stroke-width="0.7" />
<line x1="180.9" y1="549.2" x2="181.9" y2="561.2" stroke-width="0.7" />
<line x1="182" y1="549.5" x2="183" y2="561.5" stroke-width="0.7" />
<line x1="183.1" y1="549.8" x2="184.1" y2="561.8" stroke-width="0.7" />
<line x1="187" y1="567" x2="187" y2="634" stroke-width="1.14" />
<ellipse cx="161" cy="566" rx="10" ry="12.5" stroke-width="1.58" transform="rotate(-20 161 566)" />
<ellipse cx="162" cy="566" rx="5.5" ry="7.5" stroke-width="1.25" transform="rotate(-20 162 566)" />
<path d="M 159,554 Q 167,551 171,557 Q 174,566 169,574 L 164,577" stroke-width="1.36" />
<line x1="155" y1="650" x2="170" y2="566" stroke-width="1.14" />
<line x1="156" y1="569" x2="163" y2="566" stroke-width="1.03" />
<ellipse cx="127" cy="582.5" rx="8.8" ry="15.5" stroke-width="1.8" transform="rotate(-18 127 582.5)" />
<ellipse cx="128.5" cy="581.9" rx="8.8" ry="15.5" stroke-width="1.14" transform="rotate(-18 128.5 581.9)" />
<ellipse cx="134.5" cy="579.3" rx="8.8" ry="15.5" stroke-width="1.8" transform="rotate(-18 134.5 579.3)" />
<ellipse cx="136" cy="578.7" rx="8.8" ry="15.5" stroke-width="1.14" transform="rotate(-18 136 578.7)" />
<ellipse cx="142" cy="576.2" rx="8.8" ry="15.5" stroke-width="1.8" transform="rotate(-18 142 576.2)" />
<ellipse cx="143.5" cy="575.6" rx="8.8" ry="15.5" stroke-width="1.14" transform="rotate(-18 143.5 575.6)" />
<ellipse cx="127.5" cy="582.3" rx="5.5" ry="11" stroke-width="1.25" transform="rotate(-18 127.5 582.3)" />
<line x1="139" y1="562.5" x2="171.8" y2="484.7" stroke-width="1.14" />
<ellipse cx="110" cy="593.5" rx="12" ry="16.8" stroke-width="1.91" transform="rotate(-18 110 593.5)" />
<ellipse cx="110.8" cy="593" rx="8.2" ry="12.3" stroke-width="1.25" transform="rotate(-18 110.8 593)" />
<ellipse cx="111.3" cy="592.7" rx="5" ry="8" stroke-width="1.36" transform="rotate(-18 111.3 592.7)" />
<path d="M 105.5,577.5 L 116,573.5 Q 127,573.5 129.5,589 Q 130,603 121,609 L 113,610.5" stroke-width="1.58" />
<circle cx="117.4" cy="593" r="0.8" stroke-width="0.92" />
<circle cx="116.1" cy="599" r="0.8" stroke-width="0.92" />
<circle cx="112.8" cy="602.7" r="0.8" stroke-width="0.92" />
<circle cx="108.8" cy="602.7" r="0.8" stroke-width="0.92" />
<circle cx="105.5" cy="599" r="0.8" stroke-width="0.92" />
<circle cx="104.2" cy="593" r="0.8" stroke-width="0.92" />
<circle cx="105.5" cy="587" r="0.8" stroke-width="0.92" />
<circle cx="108.8" cy="583.3" r="0.8" stroke-width="0.92" />
<circle cx="112.8" cy="583.3" r="0.8" stroke-width="0.92" />
<circle cx="116.1" cy="587" r="0.8" stroke-width="0.92" />
<line x1="107" y1="578" x2="140" y2="502.5" stroke-width="1.14" />
<ellipse cx="93" cy="602.5" rx="7" ry="10" stroke-width="1.58" transform="rotate(-20 93 602.5)" />
<ellipse cx="93.5" cy="602.5" rx="4.5" ry="7" stroke-width="1.14" transform="rotate(-20 93.5 602.5)" />
<line x1="90" y1="592.5" x2="107.5" y2="521" stroke-width="1.14" />
<ellipse cx="66.5" cy="617" rx="10.5" ry="15.2" stroke-width="1.91" transform="rotate(-18 66.5 617)" />
<ellipse cx="67.8" cy="616.5" rx="6.5" ry="11" stroke-width="1.36" transform="rotate(-18 67.8 616.5)" />
<path d="M 62,602.5 L 73,598.5 Q 84,597 87.5,611 Q 89,624 80,630.5 L 70.5,632.5" stroke-width="1.69" />
<path d="M 72,600 Q 80,603 82,615 Q 82,625 77,630" stroke-width="1.03" />
<line x1="77" y1="598.5" x2="75" y2="540.5" stroke-width="1.14" />
<ellipse cx="48.8" cy="627.5" rx="11" ry="14.5" stroke-width="1.69" transform="rotate(-20 48.8 627.5)" />
<ellipse cx="50" cy="627" rx="6" ry="10" stroke-width="1.25" transform="rotate(-20 50 627)" />
<line x1="43.8" y1="560" x2="43.8" y2="617.5" stroke-width="1.14" />
<polyline points="50,500 22.5,514 22.5,641 40,632.5" stroke-width="1.36" />
<line x1="56" y1="623" x2="71" y2="615" stroke-width="1.03" />
<line x1="95" y1="601" x2="112" y2="592" stroke-width="1.03" />
<line x1="145" y1="575" x2="160" y2="567" stroke-width="1.03" />
<line x1="168" y1="563" x2="181" y2="556" stroke-width="1.03" />
<path d="M 30.4,270 L 18.6,233.6 L 18.6,170 Q 18.8,165.5 22,164 L 171.4,82.9 Q 177,80.8 183,82.5 Q 200,88 207.5,98 Q 211.4,102 211.2,110 L 210.2,166 Q 209.5,172 204.3,175.7 L 50.7,254" stroke-width="2.02" />
<path d="M 50.7,254 L 50.7,263.6 L 60.4,282.8" stroke-width="1.58" />
<path d="M 49.5,253 Q 55,251.5 58,255.5" stroke-width="1.25" />
<line x1="58" y1="257" x2="147" y2="208" stroke-width="1.03" stroke-dasharray="14 3 2 3"/>
<path d="M 21,166.5 L 26,168" stroke-width="1.25" />
<path d="M 39,171.4 Q 51,178 55,187.5" stroke-width="1.25" />
<line x1="57" y1="190" x2="57" y2="251" stroke-width="1.25" stroke-dasharray="12 3 3 3"/>
<line x1="60" y1="187.5" x2="130" y2="148.8" stroke-width="1.25" />
<line x1="136" y1="145.5" x2="207" y2="105.7" stroke-width="1.25" />
<ellipse cx="168.6" cy="162.5" rx="15.5" ry="21" stroke-width="1.25" transform="rotate(28 168.6 162.5)" />
<ellipse cx="56" cy="160" rx="10" ry="5.5" stroke-width="1.47" transform="rotate(-5 56 160)" />
<ellipse cx="56" cy="159" rx="6" ry="3" stroke-width="1.14" transform="rotate(-5 56 159)" />
<ellipse cx="56" cy="159" rx="2.5" ry="1.3" stroke-width="1.03" transform="rotate(-5 56 159)" />
<line x1="148.6" y1="205.4" x2="158.9" y2="233.4" stroke-width="1.58" />
<path d="M 162.3,246 L 185,261.5 Q 189,264 190,268" stroke-width="1.58" />
<path d="M 154.5,234.5 L 159.5,232 L 162.8,234.5 L 162.8,245.5 L 158,248 L 153.5,246.5" stroke-width="1.47" />
<line x1="159.5" y1="232" x2="158.5" y2="236.5" stroke-width="1.14" />
<line x1="130.3" y1="250.6" x2="154.5" y2="239.5" stroke-width="1.25" />
<line x1="131.4" y1="255.5" x2="158" y2="247.5" stroke-width="1.25" />
<path d="M 27.5,272.5 L 58.7,285.2 L 66,282.6" stroke-width="1.58" />
<path d="M 24.6,275 L 24.6,281 L 57.4,292.3 L 68,288.4" stroke-width="1.47" />
<path d="M 24.6,281 L 24.6,286 L 57.4,297.6 L 70,292.5" stroke-width="1.36" />
<path d="M 22.7,288 L 22.7,292.3 L 57.4,304" stroke-width="1.36" />
<line x1="57.4" y1="285.2" x2="57.4" y2="304" stroke-width="1.36" />
<line x1="78" y1="280" x2="100" y2="269.5" stroke-width="1.25" />
<line x1="80" y1="284.5" x2="100" y2="275" stroke-width="1.25" />
<circle cx="31.4" cy="271.3" r="2.4" stroke-width="1.36" />
<ellipse cx="72.2" cy="271.2" rx="6.8" ry="10.8" stroke-width="2.35" transform="rotate(-14 72.2 271.2)" />
<ellipse cx="72.2" cy="270.7" rx="2.8" ry="6.3" stroke-width="1.47" transform="rotate(-14 72.2 270.7)" />
<ellipse cx="73.4" cy="283" rx="5.5" ry="2.6" stroke-width="1.58" transform="rotate(-10 73.4 283)" />
<path d="M 67.9,283.0 L 67.9,286.2 Q 73.2,289.2 78.9,285.2 L 78.9,282.2" stroke-width="1.47" />
<ellipse cx="146.3" cy="229.8" rx="6.8" ry="10.8" stroke-width="2.35" transform="rotate(-14 146.3 229.8)" />
<ellipse cx="146.3" cy="229.3" rx="2.8" ry="6.3" stroke-width="1.47" transform="rotate(-14 146.3 229.3)" />
<ellipse cx="147.5" cy="241.6" rx="5.5" ry="2.6" stroke-width="1.58" transform="rotate(-10 147.5 241.6)" />
<path d="M 142.0,241.60000000000002 L 142.0,244.8 Q 147.3,247.8 153.0,243.8 L 153.0,240.8" stroke-width="1.47" />
<ellipse cx="125" cy="273.5" rx="27.5" ry="15" stroke-width="1.91" transform="rotate(-2 125 273.5)" />
<ellipse cx="125" cy="278" rx="27.5" ry="15" stroke-width="1.47" transform="rotate(-2 125 278)" />
<ellipse cx="124.5" cy="272.8" rx="13" ry="7" stroke-width="1.47" transform="rotate(-2 124.5 272.8)" />
<ellipse cx="126" cy="271.8" rx="18.5" ry="11" stroke-width="1.47" transform="rotate(-2 126 271.8)" />
<ellipse cx="124.5" cy="273" rx="11" ry="5.8" stroke-width="0.92" transform="rotate(-2 124.5 273)" stroke-dasharray="0.6 0.9"/>
<ellipse cx="124.5" cy="273" rx="8.8" ry="4.7" stroke-width="0.92" transform="rotate(-2 124.5 273)" stroke-dasharray="0.6 0.9"/>
<ellipse cx="124.5" cy="273" rx="6.6" ry="3.5" stroke-width="0.92" transform="rotate(-2 124.5 273)" stroke-dasharray="0.6 0.9"/>
<ellipse cx="124.5" cy="273" rx="4.4" ry="2.4" stroke-width="0.92" transform="rotate(-2 124.5 273)" stroke-dasharray="0.6 0.9"/>
<ellipse cx="124.5" cy="273" rx="2.2" ry="1.2" stroke-width="0.92" transform="rotate(-2 124.5 273)" stroke-dasharray="0.6 0.9"/>
<ellipse cx="125.4" cy="253.5" rx="4.4" ry="3.4" stroke-width="1.58" />
<path d="M 121.0,253.5 L 121.0,256.0 Q 125.4,259.0 129.8,256.0 L 129.8,253.5" stroke-width="1.25" />
<ellipse cx="102.3" cy="267.4" rx="4.4" ry="3.4" stroke-width="1.58" />
<path d="M 97.89999999999999,267.4 L 97.89999999999999,269.9 Q 102.3,272.9 106.7,269.9 L 106.7,267.4" stroke-width="1.25" />
<ellipse cx="146" cy="267.4" rx="4.4" ry="3.4" stroke-width="1.58" />
<path d="M 141.6,267.4 L 141.6,269.9 Q 146,272.9 150.4,269.9 L 150.4,267.4" stroke-width="1.25" />
<ellipse cx="124.3" cy="280.5" rx="4.4" ry="3.4" stroke-width="1.58" />
<path d="M 119.89999999999999,280.5 L 119.89999999999999,283.0 Q 124.3,286.0 128.7,283.0 L 128.7,280.5" stroke-width="1.25" />
<path d="M 110,292 Q 118,298 126,299" stroke-width="1.14" />
<path d="M 89.5,275 L 89.5,302 M 98,275 L 98,302" stroke-width="1.36" />
<ellipse cx="93.7" cy="275" rx="4.3" ry="2.5" stroke-width="1.36" />
<ellipse cx="93.7" cy="286" rx="4.3" ry="2.5" stroke-width="1.14" />
<ellipse cx="93.7" cy="302" rx="4.3" ry="2.5" stroke-width="1.36" />
<line x1="188.6" y1="264" x2="190.5" y2="320" stroke-width="1.58" />
<line x1="190.5" y1="320" x2="186" y2="338" stroke-width="1.47" />
<line x1="57" y1="306" x2="90" y2="322" stroke-width="1.47" />
<line x1="96" y1="314" x2="188.6" y2="264" stroke-width="1.47" />
<line x1="60" y1="310" x2="90" y2="325" stroke-width="1.25" />
<line x1="92" y1="329.5" x2="187.5" y2="277" stroke-width="1.14" />
<line x1="95" y1="336.6" x2="187.5" y2="285.7" stroke-width="1.91" />
<line x1="95" y1="344.3" x2="187.5" y2="293.4" stroke-width="1.91" />
<line x1="95" y1="352" x2="187.5" y2="301.1" stroke-width="1.91" />
<line x1="95" y1="359.7" x2="187.5" y2="308.8" stroke-width="1.91" />
<line x1="95" y1="367.4" x2="187.5" y2="316.5" stroke-width="1.91" />
<line x1="95" y1="375.1" x2="187.5" y2="324.2" stroke-width="1.91" />
<line x1="95" y1="382.8" x2="187.5" y2="331.9" stroke-width="1.91" />
<line x1="95" y1="390.5" x2="187.5" y2="339.6" stroke-width="1.91" />
<line x1="95" y1="398.2" x2="187.5" y2="347.3" stroke-width="1.91" />
<line x1="95" y1="405.9" x2="187.5" y2="355" stroke-width="1.91" />
<line x1="95" y1="413.6" x2="187.5" y2="362.7" stroke-width="1.91" />
<polyline points="88.5,330 95.5,333.6 88.5,337.2 95.5,340.8 88.5,344.4 95.5,348 88.5,351.6 95.5,355.2 88.5,358.8 95.5,362.4 88.5,366 95.5,369.6 88.5,373.2 95.5,376.8 88.5,380.4 95.5,384 88.5,387.6 95.5,391.2 88.5,394.8 95.5,398.4 88.5,402 95.5,405.6 88.5,409.2 95.5,412.8" stroke-width="1.25" />
<line x1="91.4" y1="417.7" x2="191.8" y2="364.6" stroke-width="1.58" />
<line x1="189.5" y1="272" x2="191.8" y2="364.6" stroke-width="1.58" />
<line x1="89.5" y1="326" x2="89.5" y2="418" stroke-width="1.25" />
<ellipse cx="120" cy="363" rx="4.5" ry="3.5" stroke-width="1.36" />
<ellipse cx="120" cy="363" rx="2" ry="1.5" stroke-width="1.03" />
<path d="M 19.1,313.6 L 19.1,298 Q 19.5,293.2 23.5,293.6 L 80,323.5 Q 84.8,326.5 84.8,332 L 84.8,419.3 Q 83,426 79.7,427 L 66.8,429.5" stroke-width="1.91" />
<path d="M 24,300 L 77.5,328 Q 80.5,330 80.5,334 L 80.8,418 Q 79.5,422 76,423" stroke-width="1.36" />
<line x1="26" y1="306" x2="67" y2="327.5" stroke-width="1.03" />
<path d="M 19.1,313.6 L 28.3,339.9 L 27,346 M 23.1,361.4 Q 22,385 24,395 Q 28,410 38,416 Q 45,420 48.8,420.6 Q 57,427 66.8,429.5" stroke-width="1.69" />
<path d="M 24,318 L 31,341" stroke-width="1.14" />
<polyline points="30.6,308.4 68.3,329.6 55.7,365 30.6,308.4" stroke-width="1.58" />
<line x1="38" y1="318" x2="47" y2="360" stroke-width="1.03" />
<path d="M 62,342 L 53,362 Q 50,371 46,376" stroke-width="1.25" />
<path d="M 44,368 Q 46,362 54,362" stroke-width="1.14" />
<path d="M 46,379 L 68,331 M 50,380 L 71,333" stroke-width="1.47" />
<path d="M 36,372 Q 42,358 56,357" stroke-width="1.25" />
<circle cx="74.5" cy="330" r="1.5" stroke-width="1.14" />
<circle cx="75" cy="355" r="1.5" stroke-width="1.14" />
<circle cx="75" cy="380" r="1.5" stroke-width="1.14" />
<circle cx="73" cy="406" r="1.5" stroke-width="1.14" />
<circle cx="22.5" cy="298.5" r="1.5" stroke-width="1.14" />
<circle cx="29" cy="303" r="1.5" stroke-width="1.14" />
<circle cx="32" cy="310" r="1.5" stroke-width="1.14" />
<circle cx="49.5" cy="420" r="1.5" stroke-width="1.14" />
<circle cx="70" cy="425.5" r="1.5" stroke-width="1.14" />
<circle cx="75" cy="423" r="1.5" stroke-width="1.14" />
<ellipse cx="15" cy="354" rx="5" ry="6" stroke-width="1.69" transform="rotate(-20 15 354)" />
<ellipse cx="15" cy="354" rx="2.3" ry="2.8" stroke-width="1.25" transform="rotate(-20 15 354)" />
<path d="M 13,348 L 26,342.5 M 17,360 L 29,355" stroke-width="1.47" />
<path d="M 38.6,374.3 Q 52,372 61.7,379.4 Q 72,388 72,400 Q 70,412 61.7,415.4 Q 55,417 49,414" stroke-width="1.47" />
<path d="M 61.7,379.4 Q 78,392 74,410 Q 70,420 64,424" stroke-width="1.25" />
<line x1="57" y1="402" x2="64" y2="414" stroke-width="1.03" />
<ellipse cx="41.5" cy="392.2" rx="13.5" ry="18.2" stroke-width="1.8" transform="rotate(-18 41.5 392.2)" />
<circle cx="33.4" cy="382.6" r="3.1" stroke-width="1.47" />
<circle cx="33.4" cy="382.6" r="1.3" stroke-width="1.03" />
<circle cx="45.6" cy="391" r="3.1" stroke-width="1.47" />
<circle cx="45.6" cy="391" r="1.3" stroke-width="1.03" />
<circle cx="34" cy="396.1" r="3.1" stroke-width="1.47" />
<circle cx="34" cy="396.1" r="1.3" stroke-width="1.03" />
<circle cx="45.6" cy="405.8" r="3.1" stroke-width="1.47" />
<circle cx="45.6" cy="405.8" r="1.3" stroke-width="1.03" />
<circle cx="24.5" cy="392.5" r="1.6" stroke-width="1.14" />
<path d="M 0,407 L 21.2,396.8" stroke-width="1.69" />
<path d="M 0,411.6 L 12.2,405.8 L 25.7,418" stroke-width="1.36" />
<path d="M 1.3,428.3 L 25.7,418 L 72,443.7" stroke-width="1.69" />
<path d="M 0,428 L 0,432" stroke-width="1.47" />
<path d="M 3,412 Q 6,416 10,414" stroke-width="1.25" />
<path d="M 2,421 Q 6,422 11,419.5" stroke-width="1.14" />
<path d="M 80,446 L 61,455 L 61,462 L 72.5,471 L 214,393 L 217,394 L 266,364.6 L 266,357 L 263.3,354.4 L 250.3,347.9 L 241,351.6" stroke-width="1.8" />
<path d="M 191.8,364.6 L 205.7,357.1 L 231.7,342.3 L 248.4,367.4" stroke-width="1.58" />
<path d="M 194.6,334.9 Q 200,345 209.4,346 Q 218,347.5 224.3,346.9 L 231.7,342.3" stroke-width="1.58" />
<path d="M 196,340 Q 203,350 215,350" stroke-width="1.03" />
<path d="M 261.4,360 L 161,412.9 L 80,446" stroke-width="1.14" />
<path d="M 64,460 L 72.5,465 L 120,439" stroke-width="1.14" />
<ellipse cx="74" cy="455" rx="2.5" ry="1.6" stroke-width="1.25" />
<ellipse cx="251.2" cy="356.2" rx="2.3" ry="1.5" stroke-width="1.25" />
<line x1="71" y1="430" x2="94" y2="453" stroke-width="1.03" />
<line x1="189.5" y1="338" x2="194.6" y2="334.9" stroke-width="1.25" />
<path d="M 190,322 Q 194,317 197,322 L 196.5,330 L 191,333" stroke-width="1.14" />
<text x="231.8" y="102.6" class="n" text-anchor="middle">1</text>
<text x="270.8" y="79.6" class="n" text-anchor="middle">2</text>
<text x="310.8" y="57.3" class="n" text-anchor="middle">3</text>
<text x="351.4" y="35" class="n" text-anchor="middle">4</text>
<text x="390.8" y="13" class="n" text-anchor="middle">5</text>
<text x="637.6" y="43.8" class="n" text-anchor="middle">6</text>
<text x="643.8" y="96.9" class="n" text-anchor="middle">7</text>
<text x="645" y="143.1" class="n" text-anchor="middle">8</text>
<text x="683.4" y="365.3" class="n" text-anchor="middle">9</text>
<text x="652.6" y="383.6" class="n" text-anchor="middle">10</text>
<text x="619.8" y="401.1" class="n" text-anchor="middle">11</text>
<text x="588.4" y="419.6" class="n" text-anchor="middle">12</text>
<text x="557.6" y="437" class="n" text-anchor="middle">13</text>
<text x="525.6" y="454.4" class="n" text-anchor="middle">14</text>
<text x="493.8" y="471.6" class="n" text-anchor="middle">15</text>
<text x="356.5" y="549.3" class="n" text-anchor="middle">16</text>
<text x="323.8" y="567" class="n" text-anchor="middle">17</text>
<text x="291.8" y="585" class="n" text-anchor="middle">18</text>
<text x="260.8" y="603" class="n" text-anchor="middle">19</text>
<text x="229.8" y="621.6" class="n" text-anchor="middle">20</text>
<text x="196.8" y="638.6" class="n" text-anchor="middle">21</text>
<text x="166.3" y="656.5" class="n" text-anchor="middle">22</text>
<text x="162.2" y="488.1" class="n" text-anchor="middle">23</text>
<text x="130.8" y="506.1" class="n" text-anchor="middle">24</text>
<text x="96.8" y="524.6" class="n" text-anchor="middle">25</text>
<text x="66.8" y="541.1" class="n" text-anchor="middle">26</text>
<text x="35.8" y="559.6" class="n" text-anchor="middle">27</text>
</g>
<text x="339.5" y="577.1" class="l">1 Piston</text>
<text x="339.5" y="590" class="l">2 Piston bushings</text>
<text x="339.5" y="602.8" class="l">3 Cam</text>
<text x="339.5" y="615.7" class="l">4 Slide valve</text>
<text x="339.5" y="628.5" class="l">5 O-ring</text>
<text x="339.5" y="641.4" class="l">6 Tapered dowel pins</text>
<text x="339.5" y="654.3" class="l">7 Radial shaft seal</text>
<text x="339.5" y="667.1" class="l">8 Front end plate</text>
<text x="339.5" y="680" class="l">9 Three-phase motor</text>
<text x="473.2" y="577.1" class="l">10 Spacer bushing</text>
<text x="473.2" y="590" class="l">11 Pinion gear</text>
<text x="473.2" y="602.8" class="l">12 Spacer bushing</text>
<text x="473.2" y="615.7" class="l">13 Screw</text>
<text x="473.2" y="628.5" class="l">14 Gasket</text>
<text x="473.2" y="641.4" class="l">15 Gear box</text>
<text x="473.2" y="654.3" class="l">16 Gasket</text>
<text x="473.2" y="667.1" class="l">17 Retainer ring</text>
<text x="473.2" y="680" class="l">18 Ring gear</text>
<text x="599.1" y="577.1" class="l">19 Spacer</text>
<text x="599.1" y="590" class="l">20 Outer race</text>
<text x="599.1" y="602.8" class="l">21 Reverse lock</text>
<text x="599.1" y="615.7" class="l">22 Inner race</text>
<text x="599.1" y="628.5" class="l">23 Shims</text>
<text x="599.1" y="641.4" class="l">24 Bearing</text>
<text x="599.1" y="654.3" class="l">25 Retainer ring</text>
<text x="599.1" y="667.1" class="l">26 Spacer</text>
<text x="599.1" y="680" class="l">27 L-ring shaft seal</text>
</svg>
</body></html>
